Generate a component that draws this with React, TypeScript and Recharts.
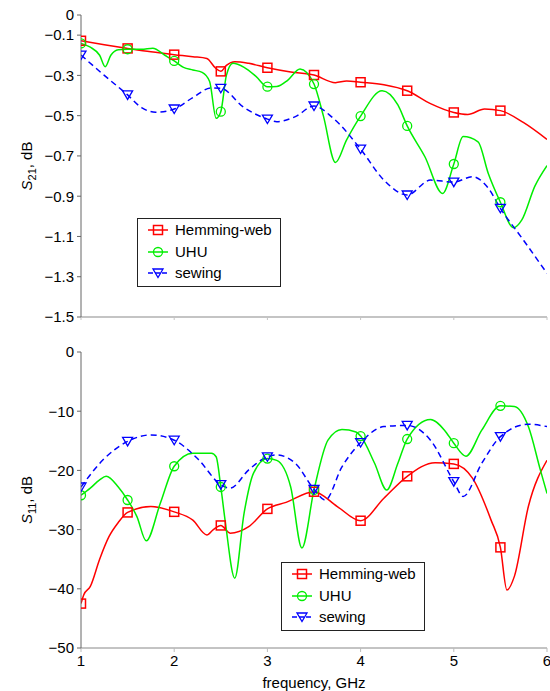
import React from 'react';
import { LineChart, Line, XAxis, YAxis } from 'recharts';

type Pt = { f: number; v: number };

const freqTicks = [1, 2, 3, 4, 5, 6];
const s21Ticks = [0, -0.1, -0.3, -0.5, -0.7, -0.9, -1.1, -1.3, -1.5];
const s11Ticks = [0, -10, -20, -30, -40, -50];
const markerFreqs = [1, 1.5, 2, 2.5, 3, 3.5, 4, 4.5, 5, 5.5];
const seriesNames = ['Hemming-web', 'UHU', 'sewing'];

const s21Hemming: Pt[] = [
  { f: 1, v: -0.128 }, { f: 1.25, v: -0.148 }, { f: 1.5, v: -0.166 }, { f: 1.75, v: -0.183 },
  { f: 2, v: -0.197 }, { f: 2.2, v: -0.207 }, { f: 2.35, v: -0.216 }, { f: 2.44, v: -0.262 },
  { f: 2.5, v: -0.28 }, { f: 2.56, v: -0.25 }, { f: 2.65, v: -0.232 }, { f: 2.8, v: -0.24 },
  { f: 3, v: -0.262 }, { f: 3.25, v: -0.283 }, { f: 3.5, v: -0.298 }, { f: 3.73, v: -0.336 },
  { f: 3.85, v: -0.328 }, { f: 4, v: -0.334 }, { f: 4.25, v: -0.346 }, { f: 4.5, v: -0.376 },
  { f: 4.75, v: -0.44 }, { f: 5, v: -0.484 }, { f: 5.15, v: -0.494 }, { f: 5.33, v: -0.467 },
  { f: 5.5, v: -0.475 }, { f: 5.75, v: -0.535 }, { f: 6, v: -0.618 },
];

const s21Uhu: Pt[] = [
  { f: 1, v: -0.141 }, { f: 1.1, v: -0.16 }, { f: 1.2, v: -0.2 }, { f: 1.26, v: -0.257 },
  { f: 1.32, v: -0.2 }, { f: 1.4, v: -0.172 }, { f: 1.5, v: -0.17 }, { f: 1.65, v: -0.17 },
  { f: 1.77, v: -0.165 }, { f: 1.9, v: -0.2 }, { f: 2, v: -0.228 }, { f: 2.1, v: -0.26 },
  { f: 2.2, v: -0.273 }, { f: 2.3, v: -0.285 }, { f: 2.38, v: -0.33 }, { f: 2.45, v: -0.513 },
  { f: 2.5, v: -0.48 }, { f: 2.56, v: -0.3 }, { f: 2.63, v: -0.24 }, { f: 2.75, v: -0.26 },
  { f: 2.88, v: -0.306 }, { f: 3, v: -0.356 }, { f: 3.1, v: -0.355 }, { f: 3.22, v: -0.323 },
  { f: 3.35, v: -0.268 }, { f: 3.5, v: -0.343 }, { f: 3.6, v: -0.5 }, { f: 3.73, v: -0.732 },
  { f: 3.85, v: -0.62 }, { f: 4, v: -0.502 }, { f: 4.23, v: -0.376 }, { f: 4.4, v: -0.447 },
  { f: 4.5, v: -0.551 }, { f: 4.69, v: -0.704 }, { f: 4.88, v: -0.886 }, { f: 5, v: -0.74 },
  { f: 5.1, v: -0.604 }, { f: 5.26, v: -0.63 }, { f: 5.37, v: -0.787 }, { f: 5.5, v: -0.93 },
  { f: 5.64, v: -1.057 }, { f: 5.73, v: -1.018 }, { f: 5.87, v: -0.85 }, { f: 6, v: -0.748 },
];

const s21Sewing: Pt[] = [
  { f: 1, v: -0.199 }, { f: 1.25, v: -0.3 }, { f: 1.5, v: -0.397 }, { f: 1.65, v: -0.46 },
  { f: 1.8, v: -0.483 }, { f: 2, v: -0.467 }, { f: 2.2, v: -0.41 }, { f: 2.4, v: -0.362 },
  { f: 2.5, v: -0.364 }, { f: 2.75, v: -0.46 }, { f: 3, v: -0.517 }, { f: 3.1, v: -0.53 },
  { f: 3.3, v: -0.505 }, { f: 3.5, v: -0.452 }, { f: 3.7, v: -0.51 }, { f: 4, v: -0.666 },
  { f: 4.25, v: -0.82 }, { f: 4.5, v: -0.894 }, { f: 4.75, v: -0.82 }, { f: 5, v: -0.83 },
  { f: 5.2, v: -0.803 }, { f: 5.37, v: -0.86 }, { f: 5.5, v: -0.96 }, { f: 5.75, v: -1.12 },
  { f: 6, v: -1.283 },
];

const s11Hemming: Pt[] = [
  { f: 1, v: -42.5 }, { f: 1.03, v: -41 }, { f: 1.1, v: -39.6 }, { f: 1.2, v: -35 },
  { f: 1.3, v: -31.2 }, { f: 1.4, v: -28.8 }, { f: 1.5, v: -27.1 }, { f: 1.75, v: -26.1 },
  { f: 2, v: -27 }, { f: 2.2, v: -28.4 }, { f: 2.35, v: -30.9 }, { f: 2.42, v: -30 },
  { f: 2.5, v: -29.3 }, { f: 2.6, v: -30.6 }, { f: 2.8, v: -29.5 }, { f: 3, v: -26.5 },
  { f: 3.2, v: -25.4 }, { f: 3.5, v: -23.6 }, { f: 3.75, v: -26.1 }, { f: 4, v: -28.5 },
  { f: 4.25, v: -24.7 }, { f: 4.5, v: -21 }, { f: 4.8, v: -18.7 }, { f: 5, v: -18.9 },
  { f: 5.2, v: -21.3 }, { f: 5.4, v: -28.4 }, { f: 5.5, v: -33 }, { f: 5.57, v: -40.2 },
  { f: 5.65, v: -37.9 }, { f: 5.8, v: -26.1 }, { f: 6, v: -18.3 },
];

const s11Uhu: Pt[] = [
  { f: 1, v: -24.2 }, { f: 1.1, v: -23 }, { f: 1.2, v: -21.6 }, { f: 1.27, v: -21 },
  { f: 1.4, v: -22.8 }, { f: 1.5, v: -25 }, { f: 1.6, v: -27.8 }, { f: 1.7, v: -31.9 },
  { f: 1.85, v: -25.6 }, { f: 2, v: -19.3 }, { f: 2.2, v: -17.1 }, { f: 2.4, v: -17.1 },
  { f: 2.45, v: -17.7 }, { f: 2.5, v: -22.8 }, { f: 2.55, v: -28.9 }, { f: 2.65, v: -38.2 },
  { f: 2.75, v: -27.2 }, { f: 2.85, v: -20.5 }, { f: 3, v: -18 }, { f: 3.1, v: -18.3 },
  { f: 3.25, v: -22.8 }, { f: 3.37, v: -33.1 }, { f: 3.5, v: -23.3 }, { f: 3.65, v: -14.9 },
  { f: 3.8, v: -13.1 }, { f: 3.95, v: -13.5 }, { f: 4, v: -14.2 }, { f: 4.15, v: -18.8 },
  { f: 4.28, v: -23.3 }, { f: 4.4, v: -18.8 }, { f: 4.5, v: -14.7 }, { f: 4.75, v: -11.4 },
  { f: 4.9, v: -13.2 }, { f: 5, v: -15.4 }, { f: 5.13, v: -17.6 }, { f: 5.3, v: -13.2 },
  { f: 5.5, v: -9.1 }, { f: 5.65, v: -9.2 }, { f: 5.8, v: -12.6 }, { f: 5.93, v: -20 },
  { f: 6, v: -23.9 },
];

const s11Sewing: Pt[] = [
  { f: 1, v: -22.8 }, { f: 1.25, v: -18 }, { f: 1.5, v: -15.1 }, { f: 1.75, v: -14 },
  { f: 2, v: -14.9 }, { f: 2.25, v: -18 }, { f: 2.5, v: -22.4 }, { f: 2.6, v: -23 },
  { f: 2.8, v: -19.9 }, { f: 3, v: -17.7 }, { f: 3.1, v: -17.4 }, { f: 3.3, v: -18.8 },
  { f: 3.5, v: -23.2 }, { f: 3.62, v: -25 }, { f: 3.8, v: -19.4 }, { f: 4, v: -15.3 },
  { f: 4.25, v: -12.6 }, { f: 4.5, v: -12.4 }, { f: 4.75, v: -14.9 }, { f: 5, v: -21.9 },
  { f: 5.1, v: -24.4 }, { f: 5.3, v: -18.8 }, { f: 5.5, v: -14.3 }, { f: 5.8, v: -12.2 },
  { f: 6, v: -12.6 },
];

const FONT = '"Liberation Sans", Arial, Helvetica, sans-serif';
const RED = '#ff0000';
const GREEN = '#00ee00';
const BLUE = '#0000ff';
const colors = [RED, GREEN, BLUE];
const shapes = ['square', 'circle', 'triangle'];

const fmt = (v: number) => (v === 0 ? '0' : String(v).replace('-', '\u2212'));

function markerShape(shape: string, color: string, cx: number, cy: number, key?: any) {
  if (shape === 'square') {
    return <rect key={key} x={cx - 4.5} y={cy - 4.5} width={9} height={9} fill="none" stroke={color} strokeWidth={1.5} />;
  }
  if (shape === 'circle') {
    return <circle key={key} cx={cx} cy={cy} r={4.5} fill="none" stroke={color} strokeWidth={1.3} />;
  }
  return (
    <path key={key} d={`M${cx - 5},${cy - 4} L${cx + 5},${cy - 4} L${cx},${cy + 4.5} Z`} fill="none" stroke={color} strokeWidth={1.3} />
  );
}

const isMarker = (f: number) => markerFreqs.some((m) => Math.abs(m - f) < 1e-6);

const makeDot = (shape: string, color: string) => (props: any) => {
  const { cx, cy, payload, index } = props;
  if (!payload || !isMarker(payload.f) || cx == null || cy == null) return <g key={`d-${index}`} />;
  return markerShape(shape, color, cx, cy, `d-${index}`);
};

const LegendBox = ({ left, top }: { left: number; top: number }) => (
  <div
    style={{
      position: 'absolute',
      left,
      top,
      width: 142,
      height: 67,
      border: '1px solid #222',
      background: '#fff',
      fontFamily: FONT,
      fontSize: 15,
    }}
  >
    {seriesNames.map((name, i) => (
      <div key={name} style={{ position: 'absolute', left: 0, top: 1 + i * 21.5, height: 20, display: 'flex', alignItems: 'center', whiteSpace: 'nowrap' }}>
        <svg width={37} height={20} style={{ display: 'block' }}>
          <line x1={10} y1={10} x2={30} y2={10} stroke={colors[i]} strokeWidth={1.5} strokeDasharray={i === 2 ? '5 2' : undefined} />
          {markerShape(shapes[i], colors[i], 20, 10)}
        </svg>
        <span style={{ color: '#000', lineHeight: '20px' }}>{name}</span>
      </div>
    ))}
  </div>
);

const YTitle = (sub: string) => (props: any) => {
  const vb = props.viewBox || {};
  const x = (vb.x || 0) + 32;
  const y = (vb.y || 0) + (vb.height || 0) / 2;
  return (
    <text x={x} y={y} transform={`rotate(-90, ${x}, ${y})`} textAnchor="middle" fontFamily={FONT} fontSize={15} fill="#000">
      <tspan fontStyle="italic">S</tspan>
      <tspan fontSize={11} dy={4}>{sub}</tspan>
      <tspan dy={-4}>, dB</tspan>
    </text>
  );
};

const XTitle = (props: any) => {
  const vb = props.viewBox || {};
  return (
    <text x={(vb.x || 0) + (vb.width || 0) / 2} y={(vb.y || 0) + 40} textAnchor="middle" fontFamily={FONT} fontSize={15} fill="#000">
      frequency, GHz
    </text>
  );
};

const tickStyle = { fontFamily: FONT, fontSize: 15, fill: '#000' };

export default function App() {
  return (
    <div style={{ position: 'absolute', left: 0, top: 0, width: 550, height: 691, background: '#fff' }}>
      <div style={{ position: 'absolute', left: 0, top: 0 }}>
        <LineChart width={550} height={330} margin={{ top: 15, right: 3, bottom: 0, left: 0 }}>
          <XAxis
            dataKey="f"
            type="number"
            domain={[1, 6]}
            ticks={freqTicks}
            interval={0}
            height={13}
            tickFormatter={() => ''}
            axisLine={{ stroke: '#c4c4c4', strokeWidth: 2 }}
            tickLine={{ stroke: '#c4c4c4' }}
            tickSize={3}
            allowDataOverflow
          />
          <YAxis
            type="number"
            domain={[-1.5, 0]}
            ticks={s21Ticks}
            interval={0}
            width={81}
            tickFormatter={fmt}
            tick={tickStyle}
            tickSize={4}
            tickMargin={3}
            axisLine={{ stroke: '#666' }}
            tickLine={{ stroke: '#666' }}
            allowDataOverflow
            label={{ content: YTitle('21') }}
          />
          <Line data={s21Hemming} dataKey="v" name={seriesNames[0]} type="monotone" stroke={RED} strokeWidth={1.5} dot={makeDot('square', RED)} activeDot={false} isAnimationActive={false} />
          <Line data={s21Uhu} dataKey="v" name={seriesNames[1]} type="monotone" stroke={GREEN} strokeWidth={1.5} dot={makeDot('circle', GREEN)} activeDot={false} isAnimationActive={false} />
          <Line data={s21Sewing} dataKey="v" name={seriesNames[2]} type="monotone" stroke={BLUE} strokeWidth={1.5} strokeDasharray="6 4" dot={makeDot('triangle', BLUE)} activeDot={false} isAnimationActive={false} />
        </LineChart>
        <LegendBox left={137} top={218} />
      </div>
      <div style={{ position: 'absolute', left: 0, top: 330 }}>
        <LineChart width={550} height={361} margin={{ top: 22, right: 3, bottom: 0, left: 0 }}>
          <XAxis
            dataKey="f"
            type="number"
            domain={[1, 6]}
            ticks={freqTicks}
            interval={0}
            height={43}
            tick={tickStyle}
            tickSize={4}
            tickMargin={3}
            axisLine={{ stroke: '#888' }}
            tickLine={{ stroke: '#bbb' }}
            allowDataOverflow
            label={{ content: XTitle }}
          />
          <YAxis
            type="number"
            domain={[-50, 0]}
            ticks={s11Ticks}
            interval={0}
            width={81}
            tickFormatter={fmt}
            tick={tickStyle}
            tickSize={4}
            tickMargin={3}
            axisLine={{ stroke: '#666' }}
            tickLine={{ stroke: '#666' }}
            allowDataOverflow
            label={{ content: YTitle('11') }}
          />
          <Line data={s11Hemming} dataKey="v" name={seriesNames[0]} type="monotone" stroke={RED} strokeWidth={1.5} dot={makeDot('square', RED)} activeDot={false} isAnimationActive={false} />
          <Line data={s11Uhu} dataKey="v" name={seriesNames[1]} type="monotone" stroke={GREEN} strokeWidth={1.5} dot={makeDot('circle', GREEN)} activeDot={false} isAnimationActive={false} />
          <Line data={s11Sewing} dataKey="v" name={seriesNames[2]} type="monotone" stroke={BLUE} strokeWidth={1.5} strokeDasharray="6 4" dot={makeDot('triangle', BLUE)} activeDot={false} isAnimationActive={false} />
        </LineChart>
        <LegendBox left={281} top={232} />
      </div>
    </div>
  );
}
